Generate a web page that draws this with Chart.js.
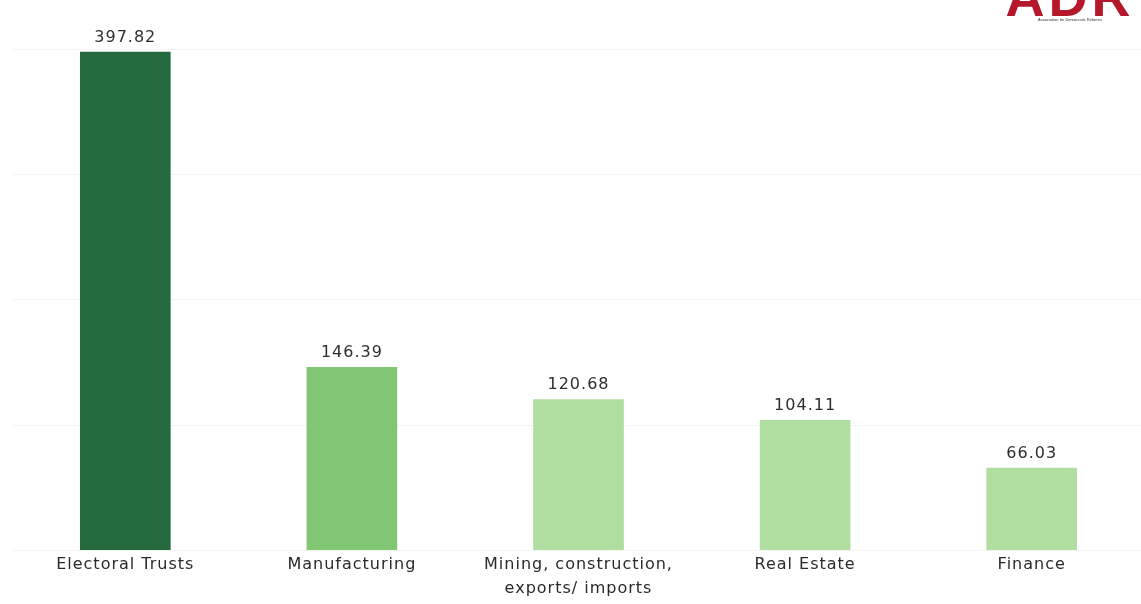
<!DOCTYPE html>
<html>
<head>
<meta charset="utf-8">
<script src="https://cdn.jsdelivr.net/npm/chart.js@4.4.1/dist/chart.umd.min.js"></script>
<style>
html,body{margin:0;padding:0;background:#fff;overflow:hidden;width:1141px;height:604px;}
#wrap{position:absolute;left:0;top:0;width:1145px;height:604px;}
#logo{position:absolute;left:1000px;top:-23px;width:140px;text-align:center;font-family:"Liberation Sans",sans-serif;}
#logo .big{font-size:54px;font-weight:bold;color:#b5182b;line-height:40px;letter-spacing:4px;}
#logo .small{font-size:4px;color:#333;line-height:5px;}
</style>
</head>
<body>
<div id="wrap"><canvas id="chart"></canvas></div>
<div id="logo"><div class="big">ADR</div><div class="small">Association for Democratic Reforms</div></div>
<script>
const categories = ["Electoral Trusts", "Manufacturing", ["Mining, construction,", "exports/ imports"], "Real Estate", "Finance"];
const amounts = [397.82, 146.39, 120.68, 104.11, 66.03];
const barColors = ["#246a3e", "#80c673", "#b0dda0", "#b0dda0", "#b0dda0"];
const yTicks = [0, 100, 200, 300, 400];

const font = "'DejaVu Sans', sans-serif";

// spread the letters a little, like the original
const spacing = {
  id: "spacing",
  beforeDraw(chart) { chart.ctx.letterSpacing = "1px"; }
};

// value labels above each bar
const valueLabels = {
  id: "valueLabels",
  afterDatasetsDraw(chart) {
    const c = chart.ctx;
    const meta = chart.getDatasetMeta(0);
    c.save();
    c.font = "16px " + font;
    c.fillStyle = "#2e2e2e";
    c.textAlign = "center";
    c.textBaseline = "bottom";
    meta.data.forEach((bar, i) => {
      c.fillText(amounts[i].toFixed(2), bar.x, bar.y - 6);
    });
    c.restore();
  }
};

const ctx = document.getElementById("chart");

new Chart(ctx, {
  type: "bar",
  data: {
    labels: categories,
    datasets: [{
      data: amounts,
      backgroundColor: barColors,
      barPercentage: 0.4,
      categoryPercentage: 1
    }]
  },
  options: {
    responsive: true,
    maintainAspectRatio: false,
    animation: false,
    layout: { padding: { left: 12, right: 0, top: 49, bottom: 1 } },
    plugins: { legend: { display: false }, tooltip: { enabled: false } },
    scales: {
      x: {
        grid: { display: false, drawTicks: false },
        border: { display: false },
        ticks: {
          color: "#2a2a2a",
          font: { family: font, size: 16, lineHeight: 1.45 },
          padding: 3,
          maxRotation: 0,
          autoSkip: false
        }
      },
      y: {
        min: 0,
        max: 400,
        afterBuildTicks(axis) { axis.ticks = yTicks.map(v => ({ value: v })); },
        grid: { color: "#f4f4f4", drawTicks: false },
        border: { display: false },
        ticks: { display: false }
      }
    }
  },
  plugins: [spacing, valueLabels]
});
</script>
</body>
</html>
